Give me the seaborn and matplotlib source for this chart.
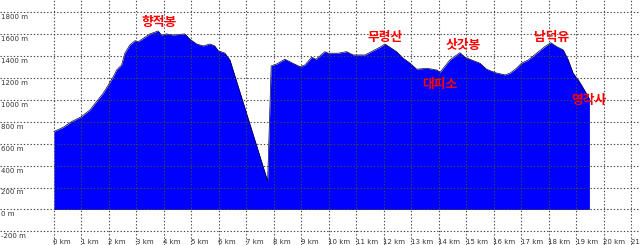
import matplotlib
matplotlib.use("Agg")
import matplotlib.pyplot as plt
import seaborn as sns
import pandas as pd

# distance along the trail (km) and elevation (m)
dist_km = [0, 0.34, 0.64, 1.0, 1.31, 1.55, 1.79, 1.98, 2.16, 2.28, 2.46, 2.58, 2.76, 2.95,
           3.07, 3.25, 3.49, 3.79, 3.91, 4.09, 4.34, 4.76, 4.95, 5.19, 5.43, 5.67, 5.85,
           5.97, 6.22, 6.4, 7.77, 7.9, 8.1, 8.4, 8.64, 8.95, 9.13, 9.37, 9.53, 9.85, 9.98,
           10.34, 10.64, 10.88, 11.31, 11.61, 11.85, 12.04, 12.22, 12.46, 12.7, 12.95,
           13.19, 13.55, 13.92, 14.04, 14.4, 14.76, 14.95, 15.25, 15.49, 15.73, 16.04,
           16.4, 16.58, 16.82, 17.0, 17.25, 17.55, 17.85, 18.06, 18.28, 18.52, 18.7,
           18.88, 19.07, 19.25, 19.43, 19.47]
elev_m = [710, 749, 800, 846, 907, 983, 1059, 1135, 1210, 1271, 1317, 1424, 1499, 1538,
          1529, 1560, 1600, 1627, 1590, 1600, 1590, 1600, 1551, 1508, 1490, 1508, 1490,
          1447, 1424, 1363, 260, 1308, 1326, 1369, 1338, 1301, 1317, 1387, 1369, 1438, 1424,
          1424, 1438, 1408, 1408, 1447, 1478, 1508, 1478, 1438, 1378, 1333,
          1278, 1287, 1271, 1250, 1363, 1429, 1387, 1356, 1333, 1278, 1247,
          1226, 1241, 1287, 1333, 1363, 1424, 1484, 1520, 1484, 1454, 1363,
          1241, 1180, 1105, 1028, 1010]

# place-name annotations
place_names = ["향적봉", "무령산", "삿갓봉", "대피소", "남덕유", "영각사"]
place_km = [3.82, 12.04, 14.87, 14.04, 18.1, 19.46]
place_elev = [1700, 1565, 1490, 1140, 1565, 995]

x_ticks = list(range(0, 22))
x_tick_labels = [f"{k} km" for k in x_ticks]
y_ticks = list(range(-200, 2000, 200))
y_tick_labels = [f"{v} m" for v in y_ticks]

df = pd.DataFrame({"km": dist_km, "m": elev_m})

sns.set_style("white")
plt.rcParams["font.family"] = ["Noto Sans CJK KR", "DejaVu Sans"]

fig = plt.figure(figsize=(6.4, 2.45), dpi=100)
ax = fig.add_axes([0, 0, 1, 1])

ax.fill_between(df["km"], 0, df["m"], color="#0000FF", zorder=1, linewidth=0)
sns.lineplot(data=df, x="km", y="m", ax=ax, color="#000033", linewidth=0.5, zorder=2)

ax.set_xlim(-1.96, 21.31)
ax.set_ylim(-324, 1909)

for k in x_ticks:
    ax.axvline(k, color="#444444", linestyle=(0, (1.2, 1.8)), linewidth=0.8, zorder=3)
for v in y_ticks:
    ax.axhline(v, color="#444444", linestyle=(0, (1.2, 1.8)), linewidth=0.8, zorder=3)

for k, lab in zip(x_ticks, x_tick_labels):
    ax.text(k - 0.02, -295, lab, fontsize=5, color="#333333", ha="left", va="center",
            family="DejaVu Sans", zorder=4)
for v, lab in zip(y_ticks, y_tick_labels):
    ax.text(-1.93, v - 18, lab, fontsize=5, color="#333333", ha="left", va="top",
            family="DejaVu Sans", zorder=4)

for name, k, e in zip(place_names, place_km, place_elev):
    ax.text(k, e, name, fontsize=9.2, fontweight="bold", color="#FF0000",
            ha="center", va="center", zorder=5)

ax.set_xlabel("")
ax.set_ylabel("")
ax.set_xticks([])
ax.set_yticks([])
for s in ax.spines.values():
    s.set_visible(False)

fig.savefig("out.png", dpi=100)
